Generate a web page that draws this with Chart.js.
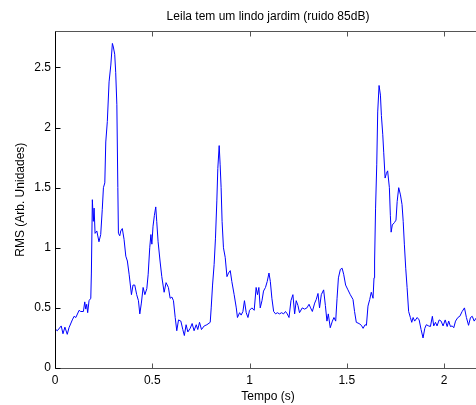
<!DOCTYPE html>
<html>
<head>
<meta charset="utf-8">
<script src="https://cdn.jsdelivr.net/npm/chart.js@4/dist/chart.umd.min.js"></script>
<style>
html, body { margin: 0; padding: 0; background: #fff; overflow: hidden; }
#wrap { position: absolute; left: 0; top: 0; width: 500px; height: 405px; }
</style>
</head>
<body>
<div id="wrap"><canvas id="rmsChart" width="500" height="405"></canvas></div>
<script>
// tempo (s) e RMS
const tempo = [
    0.004, 0.012, 0.032, 0.041, 0.051, 0.063, 0.072, 0.089, 0.098, 0.107,
    0.124, 0.132, 0.146, 0.153, 0.158, 0.163, 0.168, 0.175, 0.184, 0.187,
    0.192, 0.197, 0.201, 0.206, 0.215, 0.226, 0.235, 0.243, 0.249, 0.256,
    0.261, 0.269, 0.278, 0.287, 0.295, 0.300, 0.307, 0.312, 0.318, 0.323,
    0.326, 0.333, 0.338, 0.346, 0.355, 0.364, 0.372, 0.381, 0.393, 0.401,
    0.410, 0.420, 0.429, 0.436, 0.444, 0.453, 0.462, 0.472, 0.479, 0.487,
    0.493, 0.498, 0.504, 0.511, 0.518, 0.523, 0.530, 0.540, 0.549, 0.561,
    0.571, 0.583, 0.592, 0.601, 0.609, 0.618, 0.626, 0.635, 0.647, 0.657,
    0.665, 0.674, 0.683, 0.695, 0.705, 0.715, 0.726, 0.734, 0.743, 0.753,
    0.767, 0.781, 0.798, 0.803, 0.810, 0.818, 0.825, 0.832, 0.837, 0.844,
    0.849, 0.854, 0.859, 0.866, 0.875, 0.884, 0.892, 0.901, 0.909, 0.921,
    0.932, 0.938, 0.949, 0.957, 0.966, 0.974, 0.983, 0.992, 1.000, 1.012,
    1.024, 1.034, 1.041, 1.048, 1.055, 1.064, 1.072, 1.082, 1.091, 1.100,
    1.107, 1.115, 1.124, 1.134, 1.143, 1.154, 1.165, 1.175, 1.185, 1.194,
    1.203, 1.213, 1.223, 1.232, 1.240, 1.249, 1.257, 1.271, 1.283, 1.295,
    1.306, 1.314, 1.323, 1.335, 1.343, 1.352, 1.360, 1.369, 1.381, 1.390,
    1.398, 1.405, 1.415, 1.426, 1.434, 1.443, 1.450, 1.457, 1.467, 1.476,
    1.484, 1.494, 1.506, 1.518, 1.532, 1.540, 1.549, 1.563, 1.575, 1.584,
    1.594, 1.601, 1.609, 1.618, 1.626, 1.635, 1.640, 1.643, 1.648, 1.654,
    1.659, 1.666, 1.673, 1.678, 1.685, 1.690, 1.697, 1.704, 1.710, 1.719,
    1.724, 1.728, 1.734, 1.745, 1.753, 1.759, 1.767, 1.776, 1.784, 1.790,
    1.796, 1.803, 1.810, 1.818, 1.827, 1.834, 1.841, 1.849, 1.862, 1.872,
    1.882, 1.892, 1.901, 1.909, 1.921, 1.930, 1.940, 1.947, 1.956, 1.964,
    1.975, 1.985, 1.995, 2.006, 2.016, 2.024, 2.033, 2.042, 2.050, 2.059,
    2.071, 2.081, 2.093, 2.105, 2.115, 2.126, 2.136, 2.145, 2.155, 2.167
];
const rms = [
    0.32, 0.31, 0.35, 0.285, 0.34, 0.28, 0.335, 0.40, 0.43, 0.42,
    0.48, 0.47, 0.47, 0.55, 0.49, 0.53, 0.46, 0.56, 0.58, 0.79,
    1.40, 1.22, 1.33, 1.12, 1.14, 1.05, 1.11, 1.32, 1.50, 1.54,
    1.88, 2.05, 2.38, 2.52, 2.70, 2.67, 2.61, 2.46, 2.19, 1.50,
    1.12, 1.10, 1.14, 1.16, 1.07, 0.93, 0.89, 0.78, 0.61, 0.69,
    0.69, 0.61, 0.56, 0.45, 0.54, 0.67, 0.61, 0.66, 0.78, 1.00,
    1.11, 1.03, 1.18, 1.27, 1.34, 1.22, 1.05, 0.89, 0.76, 0.63,
    0.71, 0.67, 0.58, 0.59, 0.56, 0.42, 0.31, 0.40, 0.39, 0.32,
    0.27, 0.36, 0.30, 0.33, 0.37, 0.31, 0.36, 0.32, 0.38, 0.32,
    0.35, 0.36, 0.38, 0.50, 0.69, 0.86, 1.08, 1.39, 1.66, 1.85,
    1.69, 1.50, 1.22, 1.00, 0.92, 0.76, 0.79, 0.81, 0.72, 0.61,
    0.50, 0.42, 0.46, 0.44, 0.47, 0.56, 0.46, 0.42, 0.48, 0.50,
    0.48, 0.67, 0.61, 0.67, 0.50, 0.56, 0.64, 0.67, 0.72, 0.79,
    0.72, 0.58, 0.47, 0.45, 0.46, 0.45, 0.46, 0.45, 0.47, 0.45,
    0.42, 0.56, 0.61, 0.45, 0.56, 0.52, 0.46, 0.50, 0.49, 0.50,
    0.53, 0.50, 0.47, 0.54, 0.57, 0.62, 0.50, 0.61, 0.65, 0.52,
    0.39, 0.45, 0.335, 0.39, 0.42, 0.39, 0.58, 0.75, 0.82, 0.83,
    0.78, 0.69, 0.65, 0.61, 0.57, 0.47, 0.38, 0.37, 0.355, 0.33,
    0.36, 0.355, 0.515, 0.57, 0.63, 0.58, 0.75, 0.89, 1.33, 1.69,
    2.13, 2.35, 2.27, 2.10, 1.94, 1.79, 1.58, 1.62, 1.64, 1.50,
    1.27, 1.13, 1.19, 1.21, 1.23, 1.385, 1.50, 1.44, 1.36, 1.22,
    1.03, 0.83, 0.67, 0.47, 0.42, 0.38, 0.42, 0.39, 0.42, 0.40,
    0.32, 0.25, 0.33, 0.36, 0.35, 0.345, 0.43, 0.35, 0.38, 0.35,
    0.40, 0.39, 0.35, 0.40, 0.345, 0.39, 0.345, 0.35, 0.335, 0.39,
    0.42, 0.43, 0.47, 0.50, 0.42, 0.355, 0.42, 0.43, 0.39, 0.42
];
const xTicks = [0, 0.5, 1, 1.5, 2];
const yTicks = [0, 0.5, 1, 1.5, 2, 2.5];

const fonte = 'Liberation Sans, Arial, Helvetica, sans-serif';

// moldura e ticks para dentro, estilo matlab
const molduraPlugin = {
    id: 'moldura',
    afterDraw(chart) {
        const ctx = chart.ctx;
        const a = chart.chartArea;
        const xs = chart.scales.x;
        const ys = chart.scales.y;
        const L = Math.round(a.left) + 0.5;
        const R = Math.round(a.right) + 0.5;
        const T = Math.round(a.top) + 0.5;
        const B = Math.round(a.bottom) + 0.5;
        ctx.save();
        ctx.lineWidth = 1;
        ctx.strokeStyle = '#555';
        ctx.beginPath();
        ctx.moveTo(L, T); ctx.lineTo(R, T);
        ctx.moveTo(L, B); ctx.lineTo(R, B);
        ctx.moveTo(R, T); ctx.lineTo(R, B);
        xTicks.forEach(v => {
            const px = Math.round(xs.getPixelForValue(v)) + 0.5;
            ctx.moveTo(px, B); ctx.lineTo(px, B - 5);
            ctx.moveTo(px, T); ctx.lineTo(px, T + 5);
        });
        ctx.stroke();
        ctx.strokeStyle = '#000';
        ctx.beginPath();
        ctx.moveTo(L, T); ctx.lineTo(L, B);
        yTicks.forEach(v => {
            const py = Math.round(ys.getPixelForValue(v)) + 0.5;
            ctx.moveTo(L, py); ctx.lineTo(L + 5, py);
            ctx.moveTo(R, py); ctx.lineTo(R - 5, py);
        });
        ctx.stroke();
        ctx.restore();
    }
};

const ctx = document.getElementById('rmsChart').getContext('2d');
new Chart(ctx, {
    type: 'line',
    data: {
        datasets: [{
            label: 'RMS',
            data: tempo.map((t, i) => ({ x: t, y: rms[i] })),
            borderColor: '#0000ff',
            borderWidth: 1,
            pointRadius: 0,
            tension: 0,
            fill: false
        }]
    },
    options: {
        responsive: false,
        animation: false,
        layout: { padding: { left: 0, right: 19, top: 0, bottom: 0 } },
        scales: {
            x: {
                type: 'linear',
                min: 0,
                max: 2.19,
                grid: { display: false, drawTicks: false },
                border: { display: false },
                afterBuildTicks: function (scale) {
                    scale.ticks = xTicks.map(v => ({ value: v }));
                },
                afterFit: function (scale) { scale.height = 37; },
                ticks: {
                    padding: 5,
                    color: '#000',
                    font: { family: fonte, size: 12 },
                    maxRotation: 0,
                    callback: v => String(v)
                },
                title: {
                    display: true,
                    text: 'Tempo (s)',
                    color: '#000',
                    font: { family: fonte, size: 12 },
                    padding: { top: 0, bottom: 1 }
                }
            },
            y: {
                min: 0,
                max: 2.8,
                grid: { display: false, drawTicks: false },
                border: { display: false },
                afterBuildTicks: function (scale) {
                    scale.ticks = yTicks.map(v => ({ value: v }));
                },
                afterFit: function (scale) { scale.width = 55; },
                ticks: {
                    padding: 4,
                    color: '#000',
                    font: { family: fonte, size: 12 },
                    callback: v => String(v)
                },
                title: {
                    display: true,
                    text: 'RMS (Arb. Unidades)',
                    color: '#000',
                    font: { family: fonte, size: 12 },
                    padding: { top: 13, bottom: 0 }
                }
            }
        },
        plugins: {
            legend: { display: false },
            tooltip: { enabled: false },
            title: {
                display: true,
                text: 'Leila tem um lindo jardim (ruido 85dB)',
                color: '#000',
                fullSize: false,
                font: { family: fonte, size: 12, weight: 'normal' },
                padding: { top: 9, bottom: 8 }
            }
        }
    },
    plugins: [molduraPlugin]
});
</script>
</body>
</html>
